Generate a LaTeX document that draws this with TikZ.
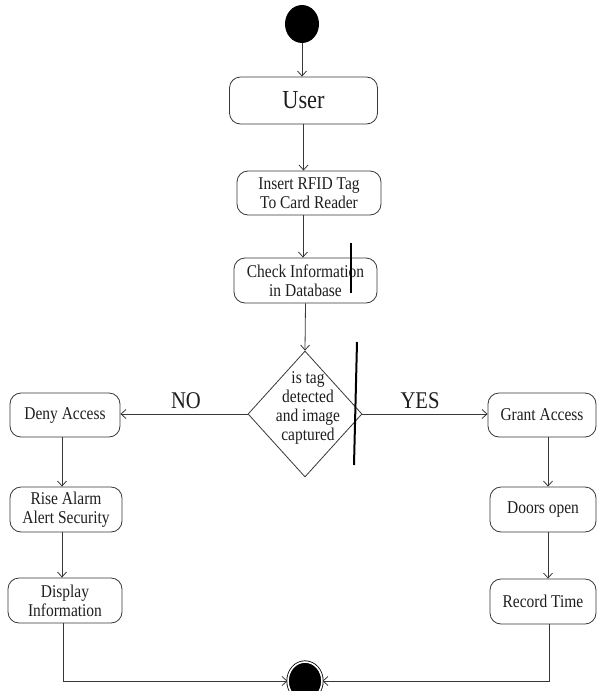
\documentclass[tikz,border=0pt]{standalone}
\usepackage{fontspec}
\setmainfont[FakeStretch=0.86]{Liberation Serif}
\usetikzlibrary{arrows.meta,positioning,shapes.geometric}
\definecolor{linecol}{RGB}{55,55,55}
\definecolor{txtcol}{RGB}{30,30,30}
\tikzset{
  flowln/.style={-{Straight Barb[length=5pt,width=9pt]}, line width=0.8pt, linecol},
  plainln/.style={line width=0.8pt, linecol},
  penmark/.style={line width=2pt, black},
  actbox/.style={rectangle, rounded corners=11pt, draw=linecol, line width=0.8pt,
    inner sep=0pt, align=center, text=txtcol, font=\fontsize{18}{19}\selectfont},
  startdot/.style={ellipse, fill=black, inner sep=0pt, minimum width=34pt, minimum height=38pt},
  stopdot/.style={ellipse, draw=black, double=white, double distance=1.6pt, line width=0.8pt,
    fill=black, inner sep=0pt, minimum width=34pt, minimum height=38pt},
  decbox/.style={diamond, draw=linecol, line width=0.8pt, inner sep=0pt},
  branchlbl/.style={text=txtcol, font=\fontsize{24}{26}\selectfont},
}

\begin{document}
\begin{tikzpicture}[x=1pt,y=-1pt]
    \useasboundingbox (0,0) rectangle (597,691);
    \clip (0,0) rectangle (597,691);
    % main column
    \node[startdot] (start) at (302,24) {};
    \node[actbox, minimum width=148pt, minimum height=47pt, font=\fontsize{26}{28}\selectfont]
      (user) at (303.5,100.5) {User};
    \node[actbox, minimum width=144pt, minimum height=44pt] (insert) at (309,193)
      {Insert RFID Tag\\To Card Reader};
    \node[actbox, minimum width=143pt, minimum height=45pt] (check) at (305.5,280.5)
      {Check Information\\in Database};
    % decision
    \node[decbox, minimum width=114pt, minimum height=126pt] (dec) at (305,414) {};
    \node[align=center, text=txtcol, font=\fontsize{18}{19}\selectfont]
      (dectext) at ([xshift=3pt,yshift=6pt]dec.center) {is tag\\detected\\and image\\captured};
    % NO branch
    \node[actbox, minimum width=110pt, minimum height=44pt] (deny) at (65,415) {Deny Access};
    \node[actbox, minimum width=112pt, minimum height=45pt] (rise) at (66,509.5)
      {Rise Alarm\\Alert Security};
    \node[actbox, minimum width=114pt, minimum height=45pt] (disp) at (65,600.5)
      {Display\\Information};
    % YES branch
    \node[actbox, minimum width=108pt, minimum height=44pt] (grant) at (542,415) {Grant Access};
    \node[actbox, minimum width=106pt, minimum height=45pt] (doors) at (543,509.5) {Doors open};
    \node[actbox, minimum width=106pt, minimum height=45pt] (record) at (543,601.5) {Record Time};
    % final state
    \node[stopdot] (stop) at (305,681) {};
    % branch labels
    \node[branchlbl] (nolbl) at (186,401) {NO};
    \node[branchlbl] (yeslbl) at (420,401) {YES};
    % flow
    \draw[flowln] (start.south) -- (start.south |- user.north);
    \draw[flowln] (user.south) -- (user.south |- insert.north);
    \draw[flowln] ([xshift=-6pt]insert.south) -- ([xshift=-6pt]insert.south |- check.north);
    \draw[flowln] (check.south) -- (dec.north);
    \draw[flowln] (dec.west) -- (dec.west -| deny.east);
    \draw[flowln] (dec.east) -- (dec.east -| grant.west);
    \draw[flowln] ([xshift=-3pt]deny.south) -- ([xshift=-3pt]deny.south |- rise.north);
    \draw[flowln] ([xshift=-4pt]rise.south) -- ([xshift=-4pt]rise.south |- disp.north);
    \draw[flowln] ([xshift=6pt]grant.south) -- ([xshift=6pt]grant.south |- doors.north);
    \draw[flowln] ([xshift=5pt]doors.south) -- ([xshift=5pt]doors.south |- record.north);
    \draw[flowln] ([xshift=-2pt]disp.south) |- (stop.west);
    \draw[flowln] ([xshift=6pt]record.south) |- (stop.east);
    % pen marks
    \draw[penmark] (351,243) -- (351,293);
    \draw[penmark] (357,342) -- (354,465);
\end{tikzpicture}
\end{document}
